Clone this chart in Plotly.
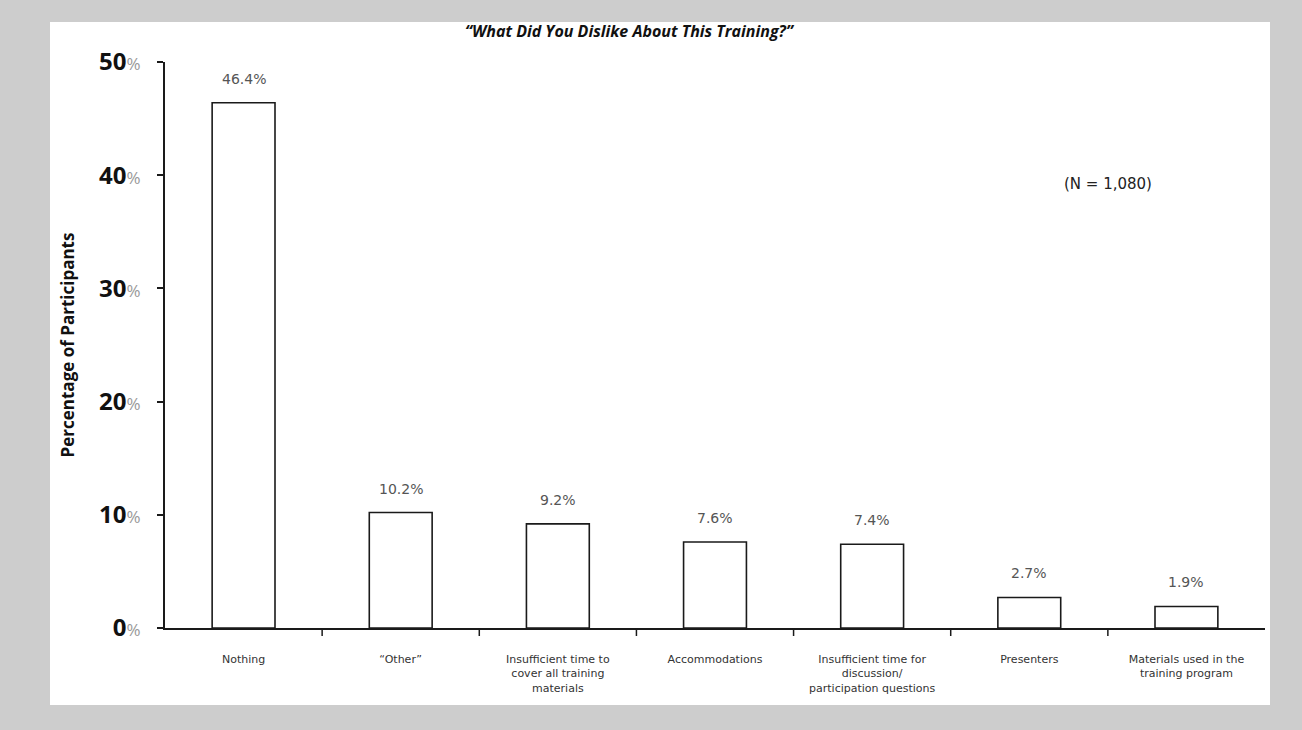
import plotly.graph_objects as go

# Survey responses: "What did you dislike about this training?"
categories = [
    "Nothing",
    "\u201cOther\u201d",
    "Insufficient time to<br>cover all training<br>materials",
    "Accommodations",
    "Insufficient time for<br>discussion/<br>participation questions",
    "Presenters",
    "Materials used in the<br>training program",
]
percentages = [46.4, 10.2, 9.2, 7.6, 7.4, 2.7, 1.9]
value_labels = ["46.4%", "10.2%", "9.2%", "7.6%", "7.4%", "2.7%", "1.9%"]
y_ticks = [0, 10, 20, 30, 40, 50]
y_tick_labels = [
    f"<b>{v}</b><span style='font-size:17px;color:#999'>%</span>" for v in y_ticks
]

W, H = 1302, 730
L, R, T, B = 165, 37, 62, 102
plot_w = W - L - R
plot_h = H - T - B


def px_x(px):
    return (px - L) / plot_w


def px_y(py):
    return (H - B - py) / plot_h


x_idx = list(range(len(categories)))

fig = go.Figure()
fig.add_trace(
    go.Bar(
        x=x_idx,
        y=percentages,
        width=0.4,
        marker=dict(color="white", line=dict(color="#1a1a1a", width=1.6)),
        hoverinfo="skip",
    )
)

# value labels above each bar
for i, (v, lab) in enumerate(zip(percentages, value_labels)):
    fig.add_annotation(
        x=i, y=v, text=lab, showarrow=False, yanchor="bottom", yshift=14,
        font=dict(family="DejaVu Sans", size=14, color="#555"),
    )

# category boundary ticks on the x axis
for b in range(1, len(categories)):
    fig.add_shape(
        type="line", xref="x", yref="paper", x0=b - 0.5, x1=b - 0.5,
        y0=0, y1=-8 / plot_h, line=dict(color="#1a1a1a", width=1.5),
    )

# grey frame around the white chart panel
fig.add_shape(
    type="rect", xref="paper", yref="paper", layer="below",
    x0=px_x(50), x1=px_x(1270), y0=px_y(705), y1=px_y(22),
    fillcolor="white", line=dict(width=0),
)

fig.add_annotation(
    xref="paper", yref="paper", x=px_x(630), y=px_y(31),
    xanchor="center", yanchor="middle",
    text="<b><i>\u201cWhat Did You Dislike About This Training?\u201d</i></b>",
    showarrow=False, font=dict(family="Open Sans", size=16, color="#111"),
)
fig.add_annotation(
    xref="paper", yref="paper", x=px_x(1108), y=px_y(184),
    xanchor="center", yanchor="middle",
    text="(N = 1,080)", showarrow=False,
    font=dict(family="DejaVu Sans", size=15, color="#222"),
)

fig.update_layout(
    width=W, height=H,
    margin=dict(l=L, r=R, t=T, b=B),
    paper_bgcolor="#cdcdcd",
    plot_bgcolor="white",
    showlegend=False,
    bargap=0.6,
    xaxis=dict(
        range=[-0.5, len(categories) - 0.5],
        tickmode="array", tickvals=x_idx, ticktext=categories,
        ticks="", showgrid=False, zeroline=False,
        showline=True, linecolor="#1a1a1a", linewidth=1.5,
        ticklabelstandoff=20,
        tickfont=dict(family="DejaVu Sans", size=11, color="#333"),
    ),
    yaxis=dict(
        range=[0, 50],
        tickmode="array", tickvals=y_ticks, ticktext=y_tick_labels,
        ticks="outside", ticklen=6, tickwidth=1.5, tickcolor="#1a1a1a",
        ticklabelstandoff=12,
        showgrid=False, zeroline=False,
        showline=True, linecolor="#1a1a1a", linewidth=1.5,
        tickfont=dict(family="Open Sans", size=24, color="#111"),
        title=dict(
            text="<b>Percentage of Participants</b>",
            font=dict(family="Open Sans", size=17, color="#111"),
            standoff=20,
        ),
    ),
)

fig.write_html("out.html")
